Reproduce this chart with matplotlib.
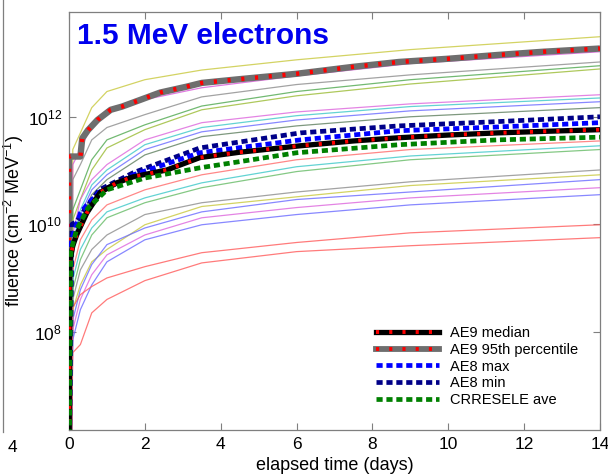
import numpy as np
import matplotlib
matplotlib.use("Agg")
import matplotlib.pyplot as plt
from matplotlib.lines import Line2D
from matplotlib.ticker import FixedLocator, LogFormatterMathtext, NullLocator

plt.rcParams["font.family"] = ["Liberation Sans", "DejaVu Sans"]
plt.rcParams["mathtext.default"] = "regular"

# ---------------------------------------------------------------------------
# Data: cumulative fluence, stored as log10(fluence [cm^-2 MeV^-1])
# ---------------------------------------------------------------------------
FLOOR = 5.0  # below the plotted range, draws the jump at the start of each run

# individual runs share one time grid (days)
run_days = [0.05, 0.1, 0.3, 0.6, 1.0, 2.0, 3.5, 6.0, 9.0, 14.0]

run_yellow_top = [FLOOR, 11.39, 11.70, 12.17, 12.47, 12.69, 12.87, 13.06, 13.25, 13.49]
run_magenta_top = [FLOOR, 11.11, 11.39, 11.85, 12.13, 12.32, 12.54, 12.76, 12.99, 13.21]
run_gray_top = [FLOOR, 10.83, 11.11, 11.57, 11.80, 12.04, 12.37, 12.60, 12.78, 13.02]
run_green_top = [FLOOR, 10.27, 10.64, 11.20, 11.57, 11.85, 12.20, 12.47, 12.69, 12.95]
run_olive_top = [FLOOR, 10.08, 10.46, 11.01, 11.42, 11.76, 12.13, 12.39, 12.61, 12.89]

run_magenta_mid = [FLOOR, 9.81, 10.46, 10.83, 11.11, 11.57, 11.89, 12.09, 12.24, 12.41]
run_cyan_mid = [FLOOR, 9.62, 10.27, 10.73, 11.01, 11.48, 11.80, 12.02, 12.19, 12.35]
run_blue_mid = [FLOOR, 9.53, 10.18, 10.64, 10.92, 11.39, 11.72, 11.94, 12.11, 12.28]
run_gray_mid = [FLOOR, 9.43, 10.08, 10.55, 10.83, 11.29, 11.63, 11.83, 12.00, 12.17]

run_red_low = [FLOOR, 9.15, 9.71, 10.08, 10.36, 10.64, 10.92, 11.20, 11.39, 11.55]
run_cyan_low = [FLOOR, 8.97, 9.53, 9.93, 10.23, 10.49, 10.77, 11.07, 11.27, 11.46]
run_green_low = [FLOOR, 8.78, 9.34, 9.80, 10.12, 10.40, 10.68, 10.98, 11.20, 11.39]
run_gray_low = [FLOOR, 8.60, 9.15, 9.53, 9.80, 10.18, 10.40, 10.60, 10.79, 11.01]
run_yellow_low = [FLOOR, 8.41, 8.87, 9.30, 9.53, 9.99, 10.33, 10.51, 10.72, 10.92]
run_blue_low = [FLOOR, 8.22, 8.78, 9.25, 9.62, 9.93, 10.23, 10.46, 10.60, 10.83]
run_magenta_low = [FLOOR, 8.04, 8.60, 9.06, 9.43, 9.80, 10.12, 10.31, 10.49, 10.68]
run_blue_lowest = [FLOOR, 7.85, 8.41, 8.87, 9.30, 9.71, 9.99, 10.18, 10.36, 10.55]

run_red_a = [FLOOR, 8.45, 8.69, 8.84, 9.00, 9.21, 9.47, 9.66, 9.84, 9.99]
run_red_b = [FLOOR, 7.61, 7.76, 8.35, 8.60, 8.95, 9.28, 9.49, 9.60, 9.75]

runs = [
    (run_yellow_top, "#c8c83c"),
    (run_magenta_top, "#d957d9"),
    (run_gray_top, "#8c8c8c"),
    (run_green_top, "#4fa84f"),
    (run_olive_top, "#9abb33"),
    (run_magenta_mid, "#dd66dd"),
    (run_cyan_mid, "#3cc8c8"),
    (run_blue_mid, "#6a6aff"),
    (run_gray_mid, "#5e7f5e"),
    (run_red_low, "#ff6a6a"),
    (run_cyan_low, "#3cc8c8"),
    (run_green_low, "#66bb66"),
    (run_gray_low, "#8c8c8c"),
    (run_yellow_low, "#c8c83c"),
    (run_blue_low, "#6a6aff"),
    (run_magenta_low, "#dd66dd"),
    (run_blue_lowest, "#6a6aff"),
    (run_red_a, "#ff5a5a"),
    (run_red_b, "#ff5a5a"),
]

# model / reference curves
ae9_p95_days = [0.0, 0.0, 0.3, 0.35, 0.5, 0.75, 1.1, 1.4, 1.9, 2.4, 3.1, 3.5, 4.5, 6.0, 7.5, 8.7, 10.0, 11.3, 12.5, 14.0]
ae9_p95 = [FLOOR, 11.26, 11.26, 11.60, 11.75, 11.94, 12.13, 12.19, 12.32, 12.45, 12.56, 12.63, 12.70, 12.80, 12.93, 13.02, 13.08, 13.15, 13.21, 13.27]

ae9_median_days = [0.0, 0.02, 0.1, 0.2, 0.47, 0.82, 1.26, 1.68, 2.58, 3.45, 4.5, 6.1, 7.5, 8.7, 10.0, 11.3, 12.6, 14.0]
ae9_median = [FLOOR, 9.30, 9.60, 9.80, 10.21, 10.59, 10.77, 10.88, 11.01, 11.24, 11.34, 11.46, 11.55, 11.61, 11.66, 11.70, 11.73, 11.76]

ae8_max_days = [0.0, 0.05, 0.1, 0.3, 0.47, 0.8, 1.7, 3.45, 6.1, 8.7, 11.3, 14.0]
ae8_max = [FLOOR, 9.60, 9.78, 10.21, 10.36, 10.60, 10.92, 11.33, 11.57, 11.74, 11.81, 11.89]

ae8_min_days = [0.0, 0.08, 0.2, 0.47, 0.8, 1.7, 3.45, 6.1, 8.7, 11.3, 14.0]
ae8_min = [FLOOR, 10.00, 10.05, 10.33, 10.64, 10.96, 11.42, 11.70, 11.83, 11.91, 12.00]

crres_days = [0.0, 0.05, 0.2, 0.5, 1.0, 2.0, 3.45, 4.0, 6.0, 8.7, 11.3, 14.0]
crres_ave = [FLOOR, 9.50, 9.90, 10.30, 10.64, 10.86, 11.05, 11.11, 11.33, 11.48, 11.57, 11.62]

legend_labels = ["AE9 median", "AE9 95th percentile", "AE8 max", "AE8 min", "CRRESELE ave"]

# ---------------------------------------------------------------------------
fig = plt.figure(figsize=(6.08, 4.74), dpi=100)
ax = fig.add_axes([69 / 608, 1 - 430 / 474, 531 / 608, 418 / 474])


def fl(vals):
    return 10.0 ** np.asarray(vals)


for vals, col in runs:
    ax.plot(run_days, fl(vals), color=col, lw=0.9, alpha=0.8, zorder=2)

# thick curves
ax.plot(ae9_p95_days, fl(ae9_p95), color="#6e6e6e", lw=4.6, solid_capstyle="butt", zorder=3)
ax.plot(ae9_p95_days, fl(ae9_p95), color="red", lw=3.2, dashes=(0.7, 2.4), zorder=3.1)

ax.plot(ae8_min_days, fl(ae8_min), color="#000088", lw=3.4, dashes=(1.3, 0.8), zorder=3.2)
ax.plot(ae8_max_days, fl(ae8_max), color="#0000ff", lw=3.4, dashes=(1.3, 0.8), zorder=3.3)
ax.plot(ae9_median_days, fl(ae9_median), color="black", lw=3.8, solid_capstyle="butt", zorder=3.4)
ax.plot(ae9_median_days, fl(ae9_median), color="red", lw=2.8, dashes=(0.8, 2.6), zorder=3.5)
ax.plot(crres_days, fl(crres_ave), color="#008000", lw=3.4, dashes=(1.3, 0.8), zorder=3.6)

ax.set_xlim(0, 14)
ax.set_ylim(10 ** 6.17, 10 ** 13.95)
ax.set_yscale("log")
ax.yaxis.set_major_locator(FixedLocator([1e8, 1e10, 1e12]))
ax.yaxis.set_major_formatter(LogFormatterMathtext())
ax.yaxis.set_minor_locator(NullLocator())
ax.set_xticks(np.arange(0, 15, 2))

for sp in ax.spines.values():
    sp.set_color("#7f7f7f")
    sp.set_linewidth(0.9)
ax.tick_params(which="both", direction="in", length=5, width=0.8, color="#7f7f7f",
               top=True, right=True, labelsize=12.5, labelcolor="black", pad=5)

ax.set_xlabel("elapsed time (days)", fontsize=13, labelpad=4)
ax.set_ylabel("fluence (cm$^{-2}$ MeV$^{-1}$)", fontsize=13, labelpad=1)

ax.text(0.016, 0.975, "1.5 MeV electrons", transform=ax.transAxes, color="#0000ee",
        fontsize=21.5, fontweight="bold", va="top", ha="left")

# legend
handles = [
    (Line2D([], [], color="black", lw=3.8), Line2D([], [], color="red", lw=2.8, dashes=(0.8, 2.6))),
    (Line2D([], [], color="#6e6e6e", lw=4.2), Line2D([], [], color="red", lw=2.8, dashes=(0.8, 2.6))),
    Line2D([], [], color="#0000ff", lw=3.4, dashes=(1.3, 0.8)),
    Line2D([], [], color="#000088", lw=3.4, dashes=(1.3, 0.8)),
    Line2D([], [], color="#008000", lw=3.4, dashes=(1.3, 0.8)),
]
ax.legend(handles, legend_labels, loc="upper left", bbox_to_anchor=(0.568, 0.262),
          frameon=False, fontsize=10.5, handlelength=4.3, handletextpad=0.75,
          labelspacing=0.18, borderaxespad=0)

# edge of the neighbouring panel
fig.add_artist(Line2D([2.5 / 608, 2.5 / 608], [1 - 432 / 474, 1.0], color="#7f7f7f", lw=0.9))
fig.text(8 / 608, 1 - 447 / 474, "4", fontsize=12.5, va="center", ha="left")

fig.savefig("out.png", dpi=100)
